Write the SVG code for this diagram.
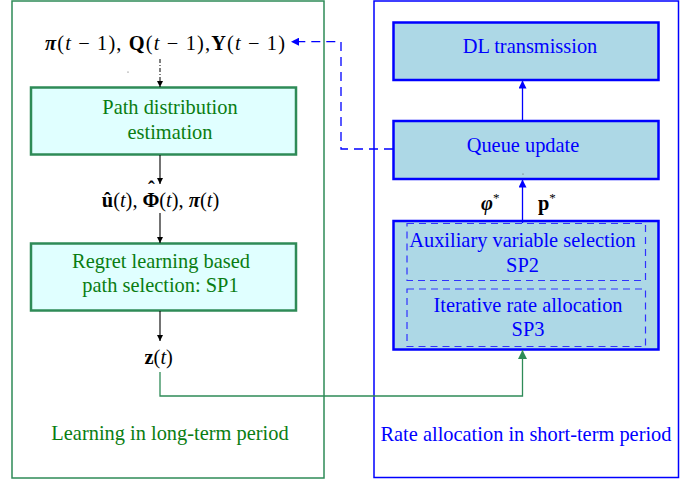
<svg xmlns="http://www.w3.org/2000/svg" width="696" height="479" viewBox="0 0 696 479">
<defs>
<style>
.t{font-family:"Liberation Serif","Times New Roman",serif;font-size:20.4px}
.g{fill:#0a7d12}
.b{fill:#0000ff}
.k{fill:#000}
.bf{font-weight:bold}
.it{font-style:italic}
.frameG{fill:none;stroke:#2e8b57;stroke-width:1.5}
.frameB{fill:none;stroke:#0000ff;stroke-width:1.5}
.boxG{fill:#e0ffff;stroke:#2e8b57;stroke-width:2.5}
.boxB{fill:#add8e6;stroke:#0000ff;stroke-width:2.5}
.dashB{fill:none;stroke:#3030ff;stroke-width:1.2;stroke-dasharray:7,5}
</style>
<marker id="ak" viewBox="0 0 10 10" refX="10" refY="5" markerWidth="6" markerHeight="8" orient="auto" markerUnits="userSpaceOnUse"><path d="M0,0 L10,5 L0,10 Z" fill="#000"/></marker>
<marker id="ab" viewBox="0 0 10 10" refX="10" refY="5" markerWidth="10" markerHeight="8" orient="auto" markerUnits="userSpaceOnUse"><path d="M0,0 L10,5 L0,10 Z" fill="#0000ff"/></marker>
<marker id="ag" viewBox="0 0 10 10" refX="10" refY="5" markerWidth="12" markerHeight="9" orient="auto" markerUnits="userSpaceOnUse"><path d="M0,0 L10,5 L0,10 Z" fill="#2e8b57"/></marker>
</defs>
<rect width="696" height="479" fill="#fff"/>

<g id="longterm">
<rect class="frameG" x="12" y="1" width="312" height="477"/>
<text class="t g" x="170" y="440" text-anchor="middle">Learning in long-term period</text>
</g>
<g id="shortterm">
<rect class="frameB" x="374" y="1" width="304.5" height="476.5"/>
<text class="t b" x="526" y="441" text-anchor="middle">Rate allocation in short-term period</text>
</g>

<g id="input">
<text class="t k" x="45" y="50" textLength="240" lengthAdjust="spacing"><tspan class="bf it">π</tspan>(<tspan class="it">t</tspan> − 1), <tspan class="bf">Q</tspan>(<tspan class="it">t</tspan> − 1),<tspan class="bf">Y</tspan>(<tspan class="it">t</tspan> − 1)</text>
<circle cx="128" cy="72" r="0.6" fill="#555"/>
</g>
<g id="pde">
<rect class="boxG" x="31" y="87.5" width="265" height="67"/>
<text class="t g" x="170" y="114" text-anchor="middle">Path distribution</text>
<text class="t g" x="170" y="139" text-anchor="middle">estimation</text>
</g>
<g id="mid">
<text class="t k" x="160.5" y="207" text-anchor="middle"><tspan class="bf">û</tspan>(<tspan class="it">t</tspan>), <tspan class="bf">Φ</tspan><tspan class="bf" dx="-11.6" dy="-11">ˆ</tspan><tspan dx="4.6" dy="11">(</tspan><tspan class="it">t</tspan>), <tspan class="bf it">π</tspan>(<tspan class="it">t</tspan>)</text>
</g>
<g id="sp1">
<rect class="boxG" x="31" y="243.5" width="265" height="67"/>
<text class="t g" x="161" y="268" text-anchor="middle">Regret learning based</text>
<text class="t g" x="160.5" y="292" text-anchor="middle">path selection: SP1</text>
</g>
<g id="zt">
<text class="t k" x="158.7" y="363.5" text-anchor="middle"><tspan class="bf">z</tspan>(<tspan class="it">t</tspan>)</text>
</g>

<g id="dl">
<rect class="boxB" x="393.5" y="22.5" width="265" height="57.5"/>
<text class="t b" x="530" y="53" text-anchor="middle">DL transmission</text>
</g>
<g id="queue">
<rect class="boxB" x="393.5" y="121" width="265" height="58"/>
<text class="t b" x="523" y="152" text-anchor="middle">Queue update</text>
<circle cx="523" cy="174" r="0.6" fill="#555"/>
</g>
<g id="sp">
<rect class="boxB" x="393.5" y="221" width="265" height="128.5"/>
<rect class="dashB" x="407" y="223.5" width="238.5" height="57"/>
<rect class="dashB" x="407" y="289" width="238.5" height="57.5"/>
<text class="t b" x="522.5" y="247" text-anchor="middle">Auxiliary variable selection</text>
<text class="t b" x="522.5" y="272" text-anchor="middle">SP2</text>
<text class="t b" x="528" y="312" text-anchor="middle">Iterative rate allocation</text>
<text class="t b" x="528" y="336" text-anchor="middle">SP3</text>
</g>
<g id="labels">
<text class="t k" x="481" y="210"><tspan class="bf it">φ</tspan><tspan font-size="13" dy="-8">*</tspan></text>
<text class="t k" x="538" y="210"><tspan class="bf">p</tspan><tspan font-size="13" dy="-8">*</tspan></text>
</g>

<g id="connectors">
<line x1="160" y1="59" x2="160" y2="87" stroke="#000" stroke-width="1" stroke-dasharray="4,2,1,2" marker-end="url(#ak)"/>
<line x1="160" y1="155" x2="160" y2="184" stroke="#000" stroke-width="1.1" marker-end="url(#ak)"/>
<line x1="160" y1="213" x2="160" y2="243" stroke="#000" stroke-width="1.1" marker-end="url(#ak)"/>
<line x1="160" y1="311" x2="160" y2="341" stroke="#000" stroke-width="1.1" marker-end="url(#ak)"/>
<line x1="522.5" y1="121" x2="522.5" y2="80.5" stroke="#0000ff" stroke-width="1.3" marker-end="url(#ab)"/>
<line x1="522.5" y1="223" x2="522.5" y2="179.5" stroke="#0000ff" stroke-width="1.3" marker-end="url(#ab)"/>
<polyline points="160,372 160,396 522.5,396 522.5,350" fill="none" stroke="#2e8b57" stroke-width="1.3" marker-end="url(#ag)"/>
<polyline points="393,149 341,149 341,41.7 291,41.7" fill="none" stroke="#0000ff" stroke-width="1.3" stroke-dasharray="9,6" marker-end="url(#ab)"/>
</g>
</svg>
